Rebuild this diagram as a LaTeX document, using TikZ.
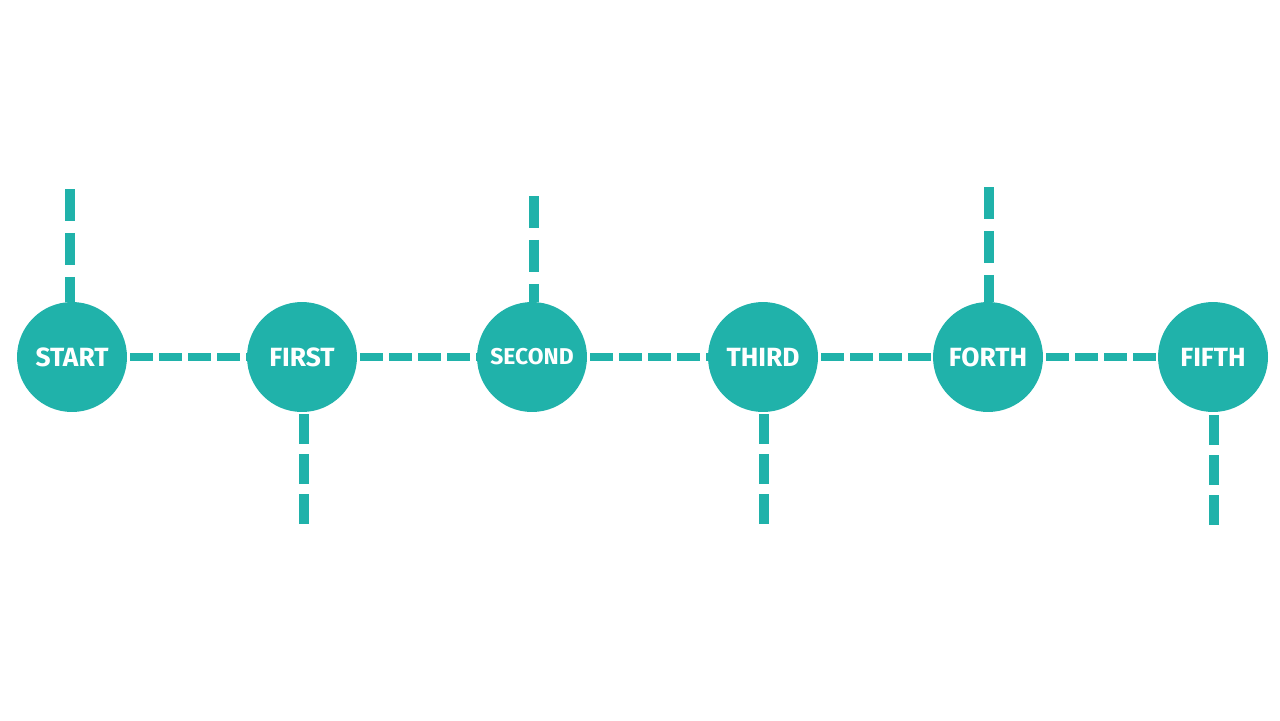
\documentclass[tikz,border=0pt]{standalone}
\usepackage{fontspec}
\setsansfont{Fira Sans}
\usepackage{xcolor}
\usepackage{tikz}
\usetikzlibrary{positioning, calc}
\definecolor{teal1}{HTML}{20B2AA}
\tikzset{
  stage/.style = {circle, fill=teal1, minimum size=2.2cm, inner sep=0pt,
                  text=white, font=\sffamily\bfseries\fontsize{15}{15}\selectfont},
  link/.style  = {draw=teal1, line width=4.5pt, dash pattern=on 0.46cm off 0.12cm,
                  shorten <=0.06cm},
  stemup/.style  = {draw=teal1, line width=5.6pt, dash pattern=on 0.64cm off 0.24cm},
  stemdn/.style  = {draw=teal1, line width=5.6pt, dash pattern=on 0.60cm off 0.20cm}
}
\begin{document}
\begin{tikzpicture}[x=0.02cm, y=-0.02cm]
  \useasboundingbox (0,0) rectangle (1280,720);
  \node[stage] (st)  at (72,357)   {START};
  \node[stage] (fst) at (302,357)  {FIRST};
  \node[stage, font=\sffamily\bfseries\fontsize{13}{13}\selectfont] (sec) at (532,357) {SECOND};
  \node[stage] (thd) at (763,357)  {THIRD};
  \node[stage] (fth) at (988,357)  {FORTH};
  \node[stage] (ffh) at (1213,357) {FIFTH};

  \coordinate (stT)  at (70,189);
  \coordinate (secT) at (534,196);
  \coordinate (fthT) at (989,187);
  \coordinate (fstB) at (304,524);
  \coordinate (thdB) at (764,524);
  \coordinate (ffhB) at (1214,525);

  % main line
  \draw[link] (st) -- (fst);
  \draw[link] (fst) -- (sec);
  \draw[link] (sec) -- (thd);
  \draw[link] (thd) -- (fth);
  \draw[link] (fth) -- (ffh);
  % stems
  \draw[stemup] (stT) -- (stT |- st.north);
  \draw[stemup] (secT) -- (secT |- sec.north);
  \draw[stemup] (fthT) -- (fthT |- fth.north);
  \draw[stemdn] (fstB) -- (fstB |- fst.south);
  \draw[stemdn] (thdB) -- (thdB |- thd.south);
  \draw[stemdn] (ffhB) -- (ffhB |- ffh.south);
\end{tikzpicture}
\end{document}
